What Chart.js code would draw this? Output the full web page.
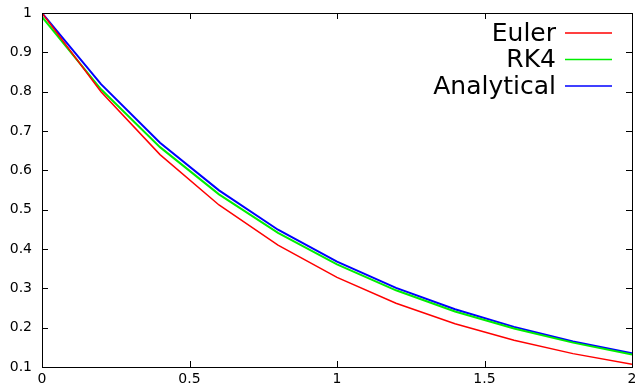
<!DOCTYPE html>
<html>
<head>
<meta charset="utf-8">
<script src="https://cdn.jsdelivr.net/npm/chart.js@4"></script>
<style>
  html, body { margin: 0; padding: 0; background: #fff; }
  #wrap { width: 637px; height: 392px; }
</style>
</head>
<body>
<div id="wrap"><canvas id="odeChart"></canvas></div>
<script>
const xs = [0, 0.2, 0.4, 0.6, 0.8, 1.0, 1.2, 1.4, 1.6, 1.8, 2.0];
const euler = [1, 0.8, 0.64, 0.512, 0.41, 0.328, 0.262, 0.21, 0.168, 0.134, 0.107];
const rk4 = [0.99, 0.806, 0.659, 0.539, 0.441, 0.361, 0.295, 0.241, 0.198, 0.162, 0.132];
const analytical = [1, 0.819, 0.670, 0.549, 0.449, 0.368, 0.301, 0.247, 0.202, 0.165, 0.135];

const xTicks = [0, 0.5, 1, 1.5, 2];
const yTicks = [0.1, 0.2, 0.3, 0.4, 0.5, 0.6, 0.7, 0.8, 0.9, 1];

const FONT = "'DejaVu Sans', sans-serif";

function toPoints(values) {
  return xs.map((x, i) => ({ x: x, y: values[i] }));
}

// gnuplot style: inward ticks on all four sides, box border, legend top right
const gnuplotFrame = {
  id: "gnuplotFrame",
  afterDraw(chart) {
    const { ctx, chartArea: a, scales } = chart;
    const len = 6;
    ctx.save();
    ctx.strokeStyle = "#000";
    ctx.lineWidth = 1;
    ctx.beginPath();
    xTicks.forEach(v => {
      const px = Math.round(scales.x.getPixelForValue(v)) + 0.5;
      ctx.moveTo(px, a.bottom); ctx.lineTo(px, a.bottom - len);
      ctx.moveTo(px, a.top); ctx.lineTo(px, a.top + len);
    });
    yTicks.forEach(v => {
      const py = Math.round(scales.y.getPixelForValue(v)) + 0.5;
      ctx.moveTo(a.left, py); ctx.lineTo(a.left + len, py);
      ctx.moveTo(a.right, py); ctx.lineTo(a.right - len, py);
    });
    ctx.stroke();
    ctx.strokeRect(Math.round(a.left) + 0.5, Math.round(a.top) + 0.5,
      Math.round(a.right - a.left), Math.round(a.bottom - a.top));

    ctx.font = "25px " + FONT;
    ctx.textAlign = "right";
    ctx.textBaseline = "middle";
    chart.data.datasets.forEach((ds, i) => {
      const y = 33 + i * 26.5;
      ctx.fillStyle = "#000";
      ctx.fillText(ds.label, 556, y + 1);
      ctx.strokeStyle = ds.borderColor;
      ctx.lineWidth = 1.5;
      ctx.beginPath();
      ctx.moveTo(565, y); ctx.lineTo(612, y);
      ctx.stroke();
    });
    ctx.restore();
  }
};

const chart = new Chart(document.getElementById("odeChart"), {
  type: "line",
  data: {
    datasets: [
      { label: "Euler", data: toPoints(euler), borderColor: "#ff0000", borderWidth: 1.5 },
      { label: "RK4", data: toPoints(rk4), borderColor: "#00ee00", borderWidth: 2 },
      { label: "Analytical", data: toPoints(analytical), borderColor: "#0000ff", borderWidth: 2 }
    ]
  },
  options: {
    responsive: true,
    maintainAspectRatio: false,
    animation: false,
    elements: { point: { radius: 0 }, line: { tension: 0 } },
    layout: { padding: { left: 0, right: 5, top: 13, bottom: 0 } },
    plugins: { legend: { display: false }, tooltip: { enabled: false } },
    scales: {
      x: {
        type: "linear",
        min: 0,
        max: 2,
        afterFit: s => { s.height = 25; s.paddingLeft = 0; s.paddingRight = 0; },
        afterBuildTicks: s => { s.ticks = xTicks.map(v => ({ value: v })); },
        ticks: { color: "#000", padding: 4, maxRotation: 0, font: { family: FONT, size: 14 },
          callback: v => String(v) },
        grid: { drawOnChartArea: false, drawTicks: false },
        border: { display: false }
      },
      y: {
        min: 0.1,
        max: 1,
        afterFit: s => { s.width = 42; s.paddingTop = 0; s.paddingBottom = 0; },
        afterBuildTicks: s => { s.ticks = yTicks.map(v => ({ value: v })); },
        ticks: { color: "#000", padding: 10, font: { family: FONT, size: 14 },
          callback: v => String(Math.round(v * 10) / 10) },
        grid: { drawOnChartArea: false, drawTicks: false },
        border: { display: false }
      }
    }
  },
  plugins: [gnuplotFrame]
});
</script>
</body>
</html>
